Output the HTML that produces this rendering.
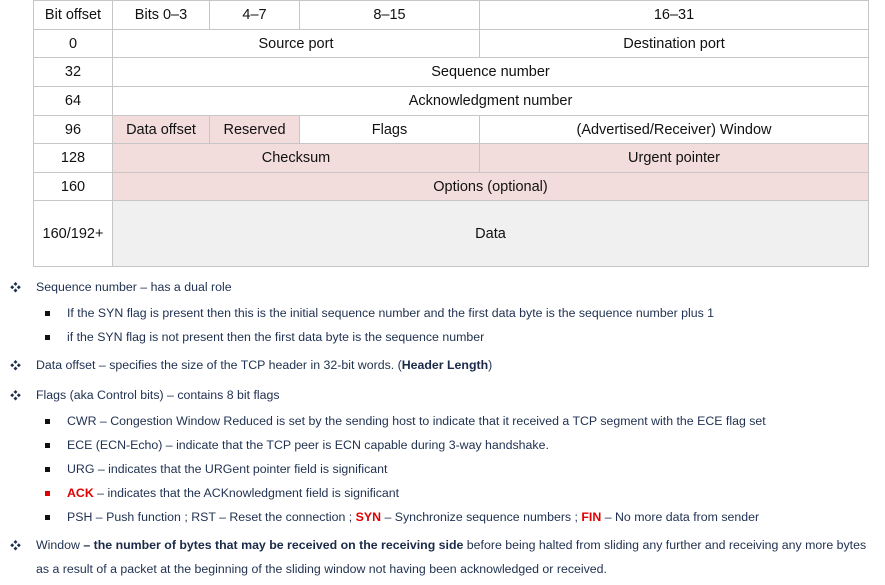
<!DOCTYPE html>
<html><head><meta charset="utf-8"><style>
body{margin:0;width:885px;height:585px;background:#fff;position:relative;overflow:hidden;font-family:"Liberation Sans","Noto Sans CJK KR",sans-serif}
.c{position:absolute;box-sizing:border-box;border:1px solid #c6c6c6;display:flex;align-items:center;justify-content:center;font-size:14.5px;color:#111;margin-left:-1px;margin-top:-1px}
.p{background:#f2dcdc}
.g{background:#f0f0f0}
.t{position:absolute;font-size:12.35px;color:#1f3050;white-space:nowrap;line-height:16px}
.b1{position:absolute;font-size:11px;color:#1f3050;left:10px}
.b2{position:absolute;width:5px;height:5px;background:#111;left:45px}
b{color:#1a2a48}
.r{color:#e00000;font-weight:bold}
</style></head><body>
<div class="c" style="left:34px;top:1px;width:80px;height:30px">Bit offset</div>
<div class="c" style="left:113px;top:1px;width:98px;height:30px">Bits 0–3</div>
<div class="c" style="left:210px;top:1px;width:91px;height:30px">4–7</div>
<div class="c" style="left:300px;top:1px;width:181px;height:30px">8–15</div>
<div class="c" style="left:480px;top:1px;width:390px;height:30px">16–31</div>
<div class="c" style="left:34px;top:30px;width:80px;height:29px">0</div>
<div class="c" style="left:113px;top:30px;width:368px;height:29px">Source port</div>
<div class="c" style="left:480px;top:30px;width:390px;height:29px">Destination port</div>
<div class="c" style="left:34px;top:58px;width:80px;height:30px">32</div>
<div class="c" style="left:113px;top:58px;width:757px;height:30px">Sequence number</div>
<div class="c" style="left:34px;top:87px;width:80px;height:30px">64</div>
<div class="c" style="left:113px;top:87px;width:757px;height:30px">Acknowledgment number</div>
<div class="c" style="left:34px;top:116px;width:80px;height:29px">96</div>
<div class="c p" style="left:113px;top:116px;width:98px;height:29px">Data offset</div>
<div class="c p" style="left:210px;top:116px;width:91px;height:29px">Reserved</div>
<div class="c" style="left:300px;top:116px;width:181px;height:29px">Flags</div>
<div class="c" style="left:480px;top:116px;width:390px;height:29px">(Advertised/Receiver) Window</div>
<div class="c" style="left:34px;top:144px;width:80px;height:30px">128</div>
<div class="c p" style="left:113px;top:144px;width:368px;height:30px">Checksum</div>
<div class="c p" style="left:480px;top:144px;width:390px;height:30px">Urgent pointer</div>
<div class="c" style="left:34px;top:173px;width:80px;height:29px">160</div>
<div class="c p" style="left:113px;top:173px;width:757px;height:29px">Options (optional)</div>
<div class="c" style="left:34px;top:201px;width:80px;height:67px">160/192+</div>
<div class="c g" style="left:113px;top:201px;width:757px;height:67px">Data</div>

<div class="b1" style="top:279px">❖</div><div class="t" style="left:36px;top:279px">Sequence number – has a dual role</div>
<div class="b2" style="top:311px"></div><div class="t" style="left:67px;top:305px">If the SYN flag is present then this is the initial sequence number and the first data byte is the sequence number plus 1</div>
<div class="b2" style="top:335px"></div><div class="t" style="left:67px;top:329px">if the SYN flag is not present then the first data byte is the sequence number</div>
<div class="b1" style="top:357px">❖</div><div class="t" style="left:36px;top:357px">Data offset – specifies the size of the TCP header in 32-bit words. (<b>Header Length</b>)</div>
<div class="b1" style="top:387px">❖</div><div class="t" style="left:36px;top:387px">Flags (aka Control bits) – contains 8 bit flags</div>
<div class="b2" style="top:419px"></div><div class="t" style="left:67px;top:413px">CWR – Congestion Window Reduced is set by the sending host to indicate that it received a TCP segment with the ECE flag set</div>
<div class="b2" style="top:443px"></div><div class="t" style="left:67px;top:437px">ECE (ECN-Echo) – indicate that the TCP peer is ECN capable during 3-way handshake.</div>
<div class="b2" style="top:467px"></div><div class="t" style="left:67px;top:461px">URG – indicates that the URGent pointer field is significant</div>
<div class="b2" style="top:491px;background:#e00000"></div><div class="t" style="left:67px;top:485px"><span class="r">ACK</span> – indicates that the ACKnowledgment field is significant</div>
<div class="b2" style="top:515px"></div><div class="t" style="left:67px;top:509px">PSH – Push function ; RST – Reset the connection ; <span class="r">SYN</span> – Synchronize sequence numbers ; <span class="r">FIN</span> – No more data from sender</div>
<div class="b1" style="top:537px">❖</div><div class="t" style="left:36px;top:537px">Window <b>– the number of bytes that may be received on the receiving side</b> before being halted from sliding any further and receiving any more bytes</div>
<div class="t" style="left:36px;top:561px">as a result of a packet at the beginning of the sliding window not having been acknowledged or received.</div>
</body></html>
